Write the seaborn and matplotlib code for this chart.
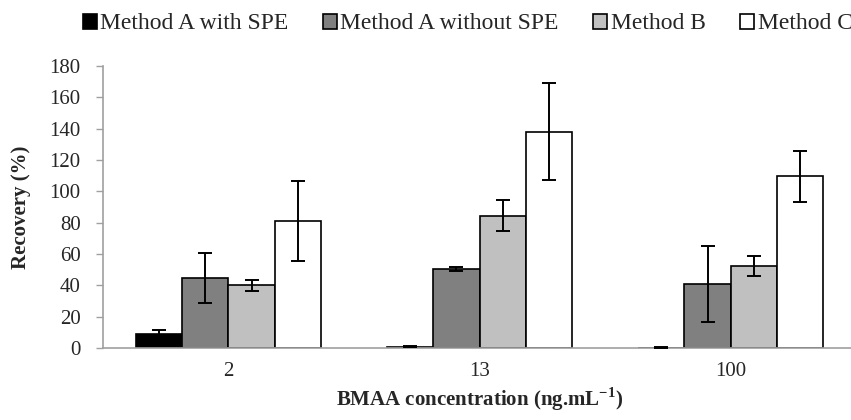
import numpy as np
import pandas as pd
import matplotlib
matplotlib.use("Agg")
import matplotlib.pyplot as plt
import seaborn as sns
from matplotlib.patches import Patch

# Data
concentrations = ["2", "13", "100"]
methods = ["Method A with SPE", "Method A without SPE", "Method B", "Method C"]
recovery_a_spe = [9, 1, 0.4]
recovery_a_nospe = [44.5, 50.5, 41]
recovery_b = [40, 84.5, 52.5]
recovery_c = [81, 138, 109.5]
err_a_spe = [2.5, 0.5, 0.2]
err_a_nospe = [16, 1.5, 24]
err_b = [3.5, 10, 6.5]
err_c = [25.5, 31, 16.5]

colors = ["#000000", "#808080", "#c0c0c0", "#ffffff"]

values = [recovery_a_spe, recovery_a_nospe, recovery_b, recovery_c]
errors = [err_a_spe, err_a_nospe, err_b, err_c]

rows = []
for m, vals, errs in zip(methods, values, errors):
    for c, v, e in zip(concentrations, vals, errs):
        rows.append({"conc": c, "method": m, "recovery": v, "err": e})
df = pd.DataFrame(rows)

sns.set_theme(style="white")
plt.rcParams["font.family"] = ["Liberation Serif", "DejaVu Serif"]
plt.rcParams["mathtext.fontset"] = "custom"
plt.rcParams["mathtext.rm"] = "Liberation Serif"
plt.rcParams["mathtext.bf"] = "Liberation Serif:bold"

fig = plt.figure(figsize=(8.51, 4.2), dpi=100)
ax = fig.add_axes([0.121, 0.171, 0.885, 0.672])

sns.barplot(data=df, x="conc", y="recovery", hue="method", order=concentrations,
            hue_order=methods, palette=colors, edgecolor="black", linewidth=1.2,
            width=0.735, errorbar=None, legend=False, ax=ax)

# error bars placed on the bars seaborn drew
for i, m in enumerate(methods):
    bars = ax.containers[i]
    for bar, e in zip(bars, errors[i]):
        xc = bar.get_x() + bar.get_width() / 2
        ax.errorbar(xc, bar.get_height(), yerr=e, color="black", lw=1.4,
                    capsize=4.7, capthick=1.4, zorder=5)

ax.set_ylim(0, 180)
ax.set_yticks(np.arange(0, 181, 20))
ax.set_xlim(-0.5, 2.5)
ax.set_xticks([-0.5, 0.5, 1.5, 2.5], minor=True)
ax.tick_params(axis="x", which="major", length=0, labelsize=15, pad=10)
ax.tick_params(axis="x", which="minor", length=6, width=1, color="#a0a0a0", direction="out")
ax.tick_params(axis="y", length=5, width=1, color="#a0a0a0", direction="out", labelsize=15, pad=11)
ax.tick_params(bottom=True, left=True)

for s in ["top", "right"]:
    ax.spines[s].set_visible(False)
for s in ["left", "bottom"]:
    ax.spines[s].set_color("#a0a0a0")
    ax.spines[s].set_linewidth(1.2)

ax.set_xlabel("BMAA concentration (ng.mL$^{\\mathbf{-1}}$)", fontsize=15, fontweight="bold", labelpad=3)
ax.set_ylabel("Recovery (%)", fontsize=15, fontweight="bold", labelpad=13)

handles = [Patch(facecolor=c, edgecolor="black", linewidth=1.2) for c in colors]
fig.legend(handles, methods, loc="center left", bbox_to_anchor=(0.097, 0.943), ncol=4,
           frameon=False, fontsize=17, handlelength=0.6, handleheight=0.6,
           handletextpad=0.15, columnspacing=1.45, borderpad=0, borderaxespad=0)

fig.savefig("out.png", dpi=100)
